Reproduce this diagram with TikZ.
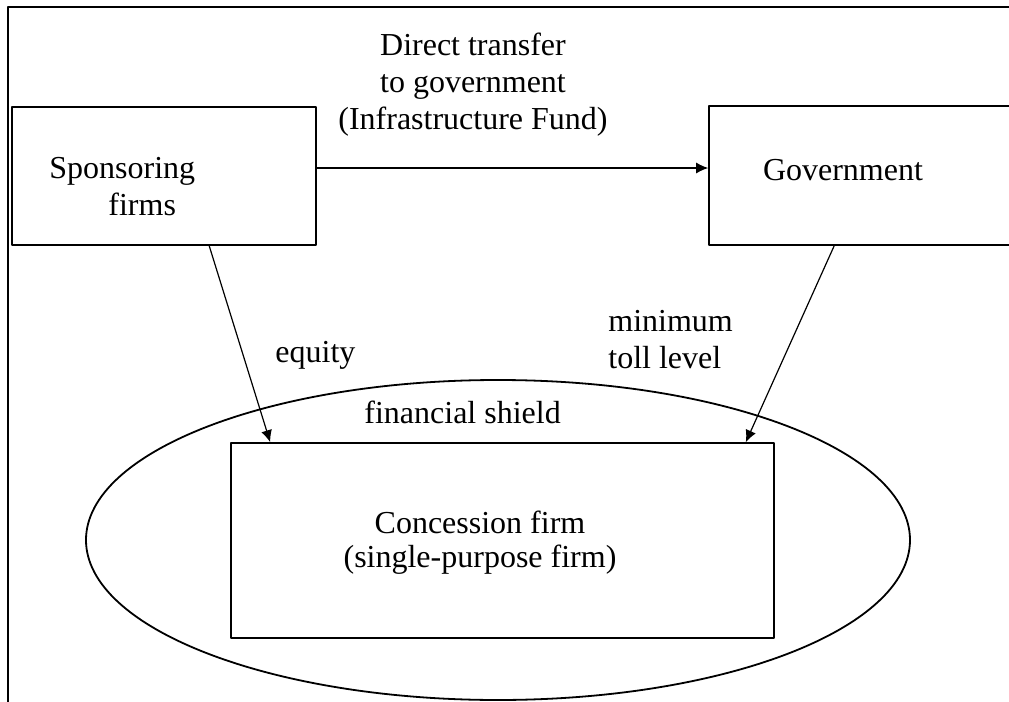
\documentclass[tikz,border=0pt]{standalone}
\usepackage{fontspec}
\setmainfont{Liberation Serif}
\usetikzlibrary{arrows.meta,calc,shapes.geometric}
\begin{document}
\begin{tikzpicture}[x=0.5pt, y=-0.5pt, font=\fontsize{16}{18.5}\selectfont, line join=round, >={Latex[length=6pt,width=5.5pt]}]
\tikzset{box/.style={draw, line width=0.8pt, inner sep=0pt},
  lbl/.style={inner sep=0pt},
  link/.style={->, line width=0.6pt}}
\useasboundingbox (0,0) rectangle (1009,702);
\clip (0,0) rectangle (1009,702);
\draw[line width=0.8pt] (8,720) -- (8,7) -- (1040,7);
% the three parties
\node[box, minimum width=152pt, minimum height=69pt] (spons) at (164,176) {};
\node[box, minimum width=165.5pt, minimum height=69.5pt] (gov) at (874.5,175.5) {};
\node[box, draw, ellipse, line width=0.9pt, minimum width=412pt, minimum height=160pt] (shield) at (498,540) {};
\node[box, minimum width=271.5pt, minimum height=97.5pt] (conc) at (502.5,540.5) {};
% texts (base = last line)
\node[lbl, anchor=base west, align=left] (sponstxt) at (49,215) {Sponsoring\\\hspace*{29.5pt}firms};
\node[lbl, anchor=base] (govtxt) at (843,180) {Government};
\node[lbl, anchor=base, align=center] (transfer) at (473,129) {Direct transfer\\to government\\(Infrastructure Fund)};
\node[lbl, anchor=base west] (equity) at (275,362) {equity};
\node[lbl, anchor=base west, align=left] (toll) at (608,368) {minimum\\toll level};
\node[lbl, anchor=base west] (shieldtxt) at (364,423) {financial shield};
\node[lbl, anchor=base, align=center, font=\fontsize{16}{17}\selectfont] (conctxt) at (480,567) {Concession firm\\(single-purpose firm)};
% flows
\draw[link] ($(spons.east)+(0,-8)$) -- ($(gov.west)+(0,-7.5)$);
\draw[link] ($(spons.south west)+(198,0)$) -- ($(conc.north west)+(40,0)$);
\draw[link] ($(gov.south west)+(126,0)$) -- ($(conc.north east)+(-29,0)$);
\end{tikzpicture}
\end{document}
